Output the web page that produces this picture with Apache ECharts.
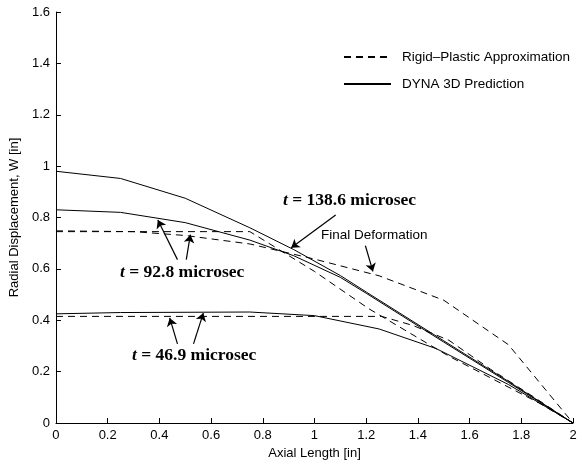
<!DOCTYPE html>
<html>
<head>
<meta charset="utf-8">
<script src="https://cdn.jsdelivr.net/npm/echarts@6/dist/echarts.min.js"></script>
<style>
  html, body { margin: 0; padding: 0; background: #fff; }
</style>
</head>
<body>
<div id="main" style="width: 582px; height: 465px"></div>
<script>
// axis ticks
const xTicks = [0, 0.2, 0.4, 0.6, 0.8, 1, 1.2, 1.4, 1.6, 1.8, 2]
const yTicks = [0, 0.2, 0.4, 0.6, 0.8, 1, 1.2, 1.4, 1.6]

// Rigid-Plastic approximation (dashed), [axial length, W]
const rp469 = [[0, 0.415], [1.26, 0.415], [1.38, 0.38], [1.52, 0.322], [1.68, 0.21], [1.85, 0.1], [2, 0]]
const rp928 = [[0, 0.745], [0.75, 0.745], [1.0, 0.59], [1.21, 0.445], [1.52, 0.26], [1.87, 0.077], [2, 0]]
const rpFinal = [[0, 0.748], [0.3, 0.745], [0.5, 0.73], [0.75, 0.697], [1.0, 0.638], [1.25, 0.573], [1.5, 0.478], [1.75, 0.305], [2, 0]]

// DYNA 3D prediction (solid)
const dyna469 = [[0, 0.425], [0.25, 0.43], [0.75, 0.432], [1.0, 0.418], [1.25, 0.366], [1.47, 0.29], [1.75, 0.15], [2, 0]]
const dyna928 = [[0, 0.83], [0.25, 0.82], [0.5, 0.78], [0.75, 0.712], [0.92, 0.651], [1.1, 0.567], [1.2, 0.505], [1.5, 0.315], [1.75, 0.158], [2, 0]]
const dyna1386 = [[0, 0.98], [0.25, 0.952], [0.5, 0.875], [0.75, 0.76], [0.92, 0.675], [1.1, 0.574], [1.2, 0.51], [1.5, 0.32], [1.75, 0.162], [2, 0]]

// annotation arrows: [from, to] in data units
const arrows = [
  [[1.082, 0.81], [0.91, 0.682]],
  [[1.197, 0.69], [1.226, 0.59]],
  [[0.47, 0.636], [0.394, 0.79]],
  [[0.504, 0.636], [0.52, 0.733]],
  [[0.47, 0.308], [0.44, 0.409]],
  [[0.532, 0.308], [0.57, 0.428]]
]

const RP = 'Rigid\u2013Plastic Approximation'
const DY = 'DYNA 3D Prediction'
const font = 'Liberation Sans, Arial, Helvetica, sans-serif'

function dashed(data) {
  return {
    name: RP, type: 'line', data: data, symbol: 'none', silent: true,
    itemStyle: { color: '#000' },
    lineStyle: { color: '#000', width: 1, type: [7, 5] }
  }
}
function solid(data) {
  return {
    name: DY, type: 'line', data: data, symbol: 'none', silent: true,
    itemStyle: { color: '#000' },
    lineStyle: { color: '#000', width: 1 }
  }
}

var myChart = echarts.init(document.getElementById('main'))

const timeLabel = function(txt) {
  return '{i|t}{b| = ' + txt + ' microsec}'
}
const rich = {
  i: { fontFamily: 'Liberation Serif, serif', fontStyle: 'italic', fontWeight: 'bold', fontSize: 17.5, fill: '#000' },
  b: { fontFamily: 'Liberation Serif, serif', fontWeight: 'bold', fontSize: 17.5, fill: '#000' }
}

var option = {
  animation: false,
  backgroundColor: '#fff',
  grid: { left: 50, right: 9, top: 12, bottom: 38 },
  legend: {
    orient: 'vertical',
    left: 338,
    top: 45,
    itemWidth: 47,
    itemHeight: 14,
    itemGap: 13,
    data: [RP, DY],
    itemStyle: { opacity: 0 },
    textStyle: { color: '#000', fontSize: 13.5, fontFamily: font, padding: [0, 0, 0, 6] },
    selectedMode: false
  },
  xAxis: {
    type: 'value', min: 0, max: 2, interval: 0.2,
    name: 'Axial Length [in]', nameLocation: 'middle', nameGap: 24,
    nameTextStyle: { color: '#000', fontSize: 13, fontFamily: font },
    axisLine: { lineStyle: { color: '#000', width: 1 } },
    axisTick: { inside: true, length: 5, lineStyle: { color: '#000' } },
    axisLabel: { color: '#000', fontSize: 13, fontFamily: font, margin: 6,
      formatter: function(v) { return String(Math.round(v * 10) / 10) } },
    splitLine: { show: false }
  },
  yAxis: {
    type: 'value', min: 0, max: 1.6, interval: 0.2,
    name: 'Radial Displacement, W [in]', nameLocation: 'middle', nameGap: 27,
    nameTextStyle: { color: '#000', fontSize: 13, fontFamily: font },
    axisLine: { show: true, lineStyle: { color: '#000', width: 1 } },
    axisTick: { show: true, inside: true, length: 5, lineStyle: { color: '#000' } },
    axisLabel: { color: '#000', fontSize: 13, fontFamily: font, margin: 6,
      formatter: function(v) { return String(Math.round(v * 10) / 10) } },
    splitLine: { show: false }
  },
  series: [
    dashed(rp469), dashed(rp928), dashed(rpFinal),
    solid(dyna469), solid(dyna928), solid(dyna1386),
    {
      name: 'arrows', type: 'line', data: [], silent: true,
      markLine: {
        silent: true, animation: false,
        symbol: ['none', 'arrow'], symbolSize: 8,
        label: { show: false },
        lineStyle: { color: '#000', width: 1.2, type: 'solid' },
        emphasis: { disabled: true },
        data: arrows.map(function(a) { return [{ coord: a[0] }, { coord: a[1] }] })
      }
    }
  ],
  graphic: [
    { type: 'text', left: 283, top: 191, style: { text: timeLabel('138.6'), rich: rich } },
    { type: 'text', left: 120, top: 263, style: { text: timeLabel('92.8'), rich: rich } },
    { type: 'text', left: 132, top: 346, style: { text: timeLabel('46.9'), rich: rich } },
    { type: 'text', left: 321, top: 228, style: { text: 'Final Deformation', fill: '#000', font: '13.5px ' + font } }
  ]
}
myChart.setOption(option)
</script>
</body>
</html>
